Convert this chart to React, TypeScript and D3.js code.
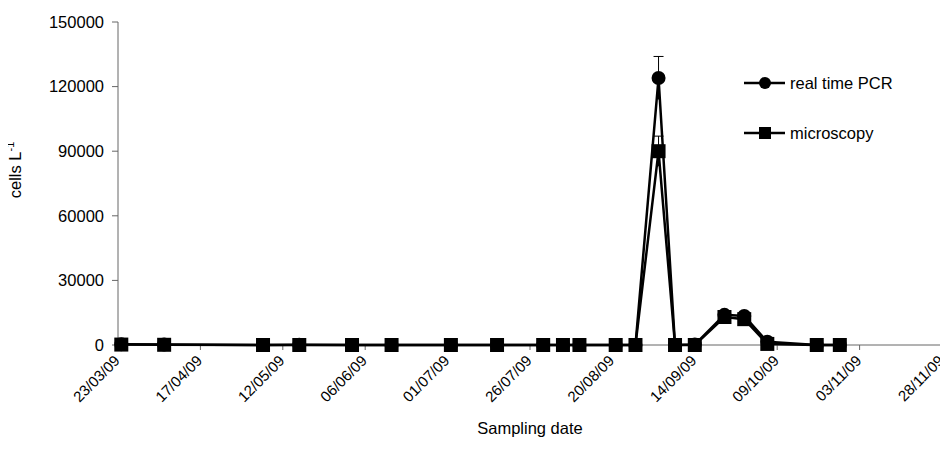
import React, { useEffect, useRef } from 'react';
import * as d3 from 'd3';

// sampling dates (dd/mm/yy)
const dates = [
  '24/03/09', '06/04/09', '06/05/09', '17/05/09', '02/06/09', '14/06/09',
  '02/07/09', '16/07/09', '30/07/09', '05/08/09', '10/08/09', '21/08/09',
  '27/08/09', '03/09/09', '08/09/09', '14/09/09', '23/09/09', '29/09/09',
  '06/10/09', '21/10/09', '28/10/09',
];
// cells per litre
const pcr = [
  300, 200, 0, 100, 0, 0, 0, 0, 0, 0, 0, 0, 0, 124000, 0, 200, 14000, 13500, 1500, 0, 0,
];
const pcrErr = [
  0, 0, 0, 0, 0, 0, 0, 0, 0, 0, 0, 0, 0, 10000, 0, 0, 1000, 1000, 0, 0, 0,
];
const micro = [
  200, 100, 0, 0, 0, 0, 0, 0, 0, 0, 0, 0, 0, 90000, 0, 0, 13000, 12000, 500, 0, 0,
];
const microErr = [
  0, 0, 0, 0, 0, 0, 0, 0, 0, 0, 0, 0, 0, 7000, 0, 0, 800, 800, 0, 0, 0,
];
const yTicks = [0, 30000, 60000, 90000, 120000, 150000];
const xStart = '23/03/09';
const xEnd = '28/11/09';

const parse = d3.timeParse('%d/%m/%y');
const fmt = d3.timeFormat('%d/%m/%y');

const App = () => {
  const ref = useRef<SVGSVGElement>(null);

  useEffect(() => {
    const svg = d3.select(ref.current);
    svg.selectAll('*').remove();

    const x = d3.scaleTime().domain([parse(xStart)!, parse(xEnd)!]).range([118, 942]);
    const y = d3.scaleLinear().domain([0, 150000]).range([345, 22]);
    const font = 'Liberation Sans, Arial, sans-serif';

    // x axis: ticks every 25 days
    const xTicks = d3.range(0, 11).map(i => d3.timeDay.offset(parse(xStart)!, i * 25));
    const gx = svg.append('g').attr('transform', `translate(0,${y(0)})`);
    gx.append('line').attr('x1', x.range()[0]).attr('x2', x.range()[1]).attr('stroke', '#666').attr('stroke-width', 1);
    xTicks.forEach(t => {
      gx.append('line').attr('x1', x(t)).attr('x2', x(t)).attr('y1', 0).attr('y2', 5).attr('stroke', '#666');
      gx.append('text')
        .attr('transform', `translate(${x(t) - 1},${13}) rotate(-45)`)
        .attr('text-anchor', 'end')
        .attr('dy', '0.35em')
        .attr('font-family', font)
        .attr('font-size', 15)
        .text(fmt(t));
    });

    // y axis
    const gy = svg.append('g');
    gy.append('line').attr('x1', 118).attr('x2', 118).attr('y1', y(0)).attr('y2', y(150000)).attr('stroke', '#666');
    yTicks.forEach(v => {
      gy.append('line').attr('x1', 112).attr('x2', 118).attr('y1', y(v)).attr('y2', y(v)).attr('stroke', '#666');
      gy.append('text')
        .attr('x', 104)
        .attr('y', y(v))
        .attr('dy', '0.35em')
        .attr('text-anchor', 'end')
        .attr('font-family', font)
        .attr('font-size', 16.5)
        .text(v);
    });

    const yl = svg.append('text')
      .attr('transform', `translate(21,170) rotate(-90)`)
      .attr('text-anchor', 'middle')
      .attr('font-family', font)
      .attr('font-size', 16.5);
    yl.append('tspan').text('cells  L');
    yl.append('tspan').attr('dy', -7).attr('font-size', 11).text('-1');

    svg.append('text')
      .attr('x', 530).attr('y', 434)
      .attr('text-anchor', 'middle')
      .attr('font-family', font)
      .attr('font-size', 16.5)
      .text('Sampling date');

    const line = d3.line<number>().x((d, i) => x(parse(dates[i])!)).y(d => y(d));

    const drawSeries = (vals: number[], errs: number[], shape: 'circle' | 'square') => {
      svg.append('path').datum(vals).attr('d', line).attr('fill', 'none').attr('stroke', '#000').attr('stroke-width', 2.5);
      vals.forEach((v, i) => {
        const cx = x(parse(dates[i])!);
        if (errs[i] > 0) {
          svg.append('line').attr('x1', cx).attr('x2', cx).attr('y1', y(v - errs[i])).attr('y2', y(v + errs[i])).attr('stroke', '#000').attr('stroke-width', 1);
          svg.append('line').attr('x1', cx - 5).attr('x2', cx + 5).attr('y1', y(v + errs[i])).attr('y2', y(v + errs[i])).attr('stroke', '#000').attr('stroke-width', 1);
        }
      });
      vals.forEach((v, i) => {
        const cx = x(parse(dates[i])!);
        if (shape === 'circle') svg.append('circle').attr('cx', cx).attr('cy', y(v)).attr('r', 7).attr('fill', '#000');
        else svg.append('rect').attr('x', cx - 7).attr('y', y(v) - 7).attr('width', 14).attr('height', 14).attr('fill', '#000');
      });
    };
    drawSeries(pcr, pcrErr, 'circle');
    drawSeries(micro, microErr, 'square');

    // legend
    const legend = [
      { label: 'real time PCR', shape: 'circle', yy: 83 },
      { label: 'microscopy', shape: 'square', yy: 133 },
    ];
    legend.forEach(l => {
      svg.append('line').attr('x1', 744).attr('x2', 785).attr('y1', l.yy).attr('y2', l.yy).attr('stroke', '#000').attr('stroke-width', 2.5);
      if (l.shape === 'circle') svg.append('circle').attr('cx', 765).attr('cy', l.yy).attr('r', 6).attr('fill', '#000');
      else svg.append('rect').attr('x', 759).attr('y', l.yy - 6).attr('width', 12).attr('height', 12).attr('fill', '#000');
      svg.append('text').attr('x', 790).attr('y', l.yy).attr('dy', '0.35em')
        .attr('font-family', font).attr('font-size', 16.5).text(l.label);
    });
  }, []);

  return (
    <div style={{ margin: -8 }}>
      <svg ref={ref} width={948} height={466} style={{ display: 'block', background: '#fff' }} />
    </div>
  );
};

export default App;
